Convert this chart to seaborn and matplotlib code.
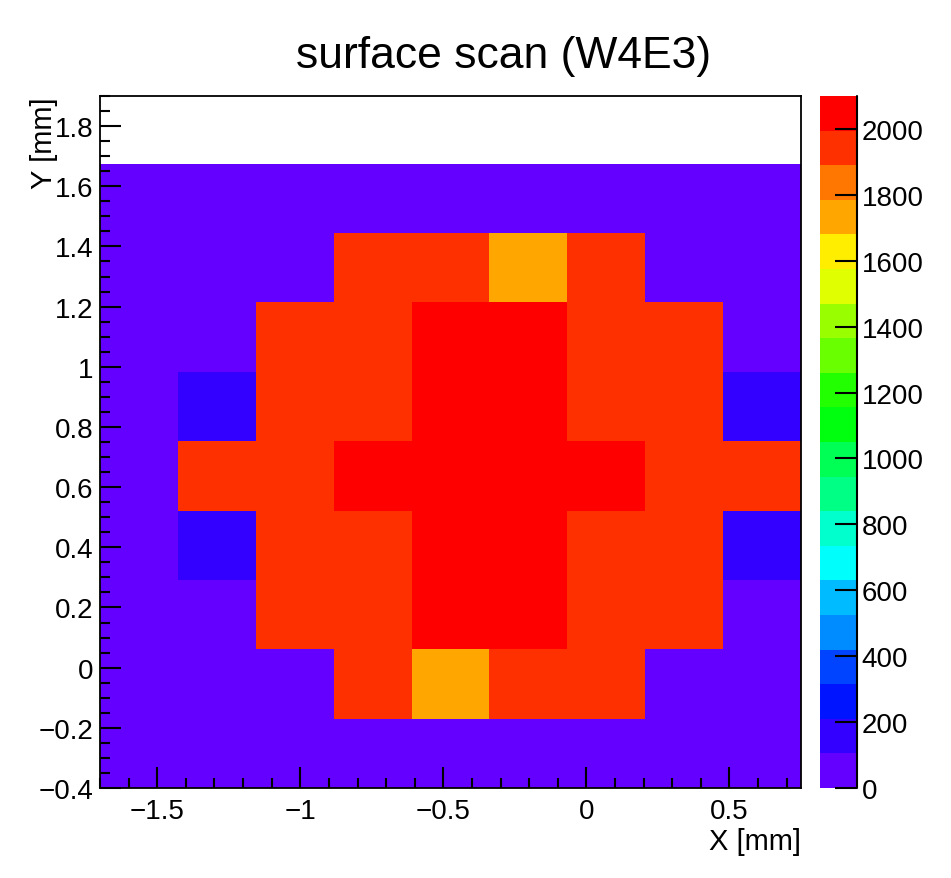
import colorsys
import numpy as np
import pandas as pd
import matplotlib
matplotlib.use("Agg")
import matplotlib.pyplot as plt
from matplotlib.colors import ListedColormap
from matplotlib.ticker import MultipleLocator, FuncFormatter
import seaborn as sns

# ---------------- data ----------------
title = "surface scan (W4E3)"
x_label = "X [mm]"
y_label = "Y [mm]"

# 9 x 9 scan grid (histogram bin edges in mm)
x_edges = [-1.7, -1.4278, -1.1556, -0.8833, -0.6111, -0.3389, -0.0667, 0.2056, 0.4778, 0.75]
y_edges = [-0.4, -0.1694, 0.0611, 0.2917, 0.5222, 0.7528, 0.9833, 1.2139, 1.4444, 1.675]

# counts per cell, rows listed from top (highest Y) to bottom (lowest Y)
row_8 = [25, 30, 28, 35, 40, 38, 30, 27, 22]
row_7 = [30, 45, 70, 1950, 1960, 1740, 1940, 60, 35]
row_6 = [40, 80, 1930, 1970, 2060, 2080, 1960, 1920, 75]
row_5 = [50, 150, 1945, 1975, 2070, 2090, 1965, 1930, 160]
row_4 = [70, 1910, 1960, 2020, 2100, 2095, 2030, 1955, 1905]
row_3 = [55, 140, 1940, 1980, 2075, 2085, 1970, 1935, 145]
row_2 = [40, 90, 1925, 1965, 2050, 2060, 1950, 1915, 85]
row_1 = [30, 50, 75, 1935, 1750, 1945, 1930, 70, 40]
row_0 = [20, 25, 35, 45, 50, 48, 40, 30, 22]

z_max = 2100
n_levels = 20
cbar_ticks = list(range(0, 2001, 200))

# ---------------- build table ----------------
rows_top_to_bottom = [row_8, row_7, row_6, row_5, row_4, row_3, row_2, row_1, row_0]
x_centers = [(a + b) / 2 for a, b in zip(x_edges[:-1], x_edges[1:])]
y_centers = [(a + b) / 2 for a, b in zip(y_edges[:-1], y_edges[1:])]
recs = []
for j, row in enumerate(rows_top_to_bottom[::-1]):
    for i, v in enumerate(row):
        recs.append({"x": x_centers[i], "y": y_centers[j], "value": v})
df = pd.DataFrame(recs)

# ROOT "pretty palette" (HLS spectrum violet -> red), 20 contour levels
cols = []
for k in range(n_levels):
    idx = int((k + 0.99) * 50 / n_levels)
    hue = 280 - (idx + 1) * 5.6
    cols.append(colorsys.hls_to_rgb(max(hue, 0) / 360.0, 0.5, 1.0))
cmap = ListedColormap(cols)

# ---------------- style ----------------
sns.set_style("white")
plt.rcParams["font.family"] = ["Liberation Sans", "DejaVu Sans"]
plt.rcParams["axes.unicode_minus"] = True
plt.rcParams["text.color"] = "black"
plt.rcParams["axes.labelcolor"] = "black"
plt.rcParams["xtick.color"] = "black"
plt.rcParams["ytick.color"] = "black"
plt.rcParams["axes.axisbelow"] = False

W, H = 951, 879
fig = plt.figure(figsize=(W / 100, H / 100), dpi=100)
ax = fig.add_axes([100 / W, 1 - 789 / H, 701 / W, 692 / H])
cax = fig.add_axes([820 / W, 1 - 789 / H, 36.7 / W, 692 / H])

sns.histplot(data=df, x="x", y="y", weights="value", bins=[x_edges, y_edges],
             cmap=cmap, vmin=0, vmax=z_max, cbar=True, cbar_ax=cax, ax=ax)

ax.set_xlim(-1.7, 0.75)
ax.set_ylim(-0.4, 1.9)
ax.set_axisbelow(False)

def fmt(v, pos):
    s = "%g" % round(v, 6)
    if s == "-0":
        s = "0"
    return s.replace("-", "\u2212")

ax.xaxis.set_major_locator(MultipleLocator(0.5))
ax.xaxis.set_minor_locator(MultipleLocator(0.1))
ax.yaxis.set_major_locator(MultipleLocator(0.2))
ax.yaxis.set_minor_locator(MultipleLocator(0.05))
ax.xaxis.set_major_formatter(FuncFormatter(fmt))
ax.yaxis.set_major_formatter(FuncFormatter(fmt))

ax.tick_params(which="both", direction="in", top=False, right=False,
               bottom=True, left=True, color="black", labelcolor="black", width=1.5)
ax.tick_params(which="major", length=15, labelsize=20)
ax.tick_params(axis="x", which="major", pad=7)
ax.tick_params(axis="y", which="major", pad=5)
ax.tick_params(which="minor", length=7.5)

for sp in ax.spines.values():
    sp.set_visible(True)
    sp.set_color("black")
    sp.set_linewidth(1.3)
    sp.set_zorder(5)

ax.set_xlabel(x_label, fontsize=21, loc="right", color="black")
ax.set_ylabel(y_label, fontsize=21, loc="top", color="black")
ax.xaxis.set_label_coords(1.0, -0.057)
ax.yaxis.set_label_coords(-0.06, 1.0)
ax.grid(False)

# colour bar
cbar = ax.collections[0].colorbar
cbar.set_ticks(cbar_ticks)
cbar.ax.minorticks_off()
cbar.ax.set_axisbelow(False)
cbar.ax.yaxis.set_major_formatter(FuncFormatter(fmt))
cbar.ax.tick_params(direction="in", length=16, width=1.5, right=True, left=False,
                    labelsize=20, pad=3.5, color="black", labelcolor="black")
cbar.outline.set_visible(False)
cbar.ax.plot([1, 1], [0, 1], transform=cbar.ax.transAxes, color="black",
             lw=1.5, clip_on=False, zorder=6)

fig.text(504 / W, 1 - 68 / H, title, ha="center", va="baseline", fontsize=32,
         color="black")

fig.savefig("out.png", dpi=100, facecolor="white")
